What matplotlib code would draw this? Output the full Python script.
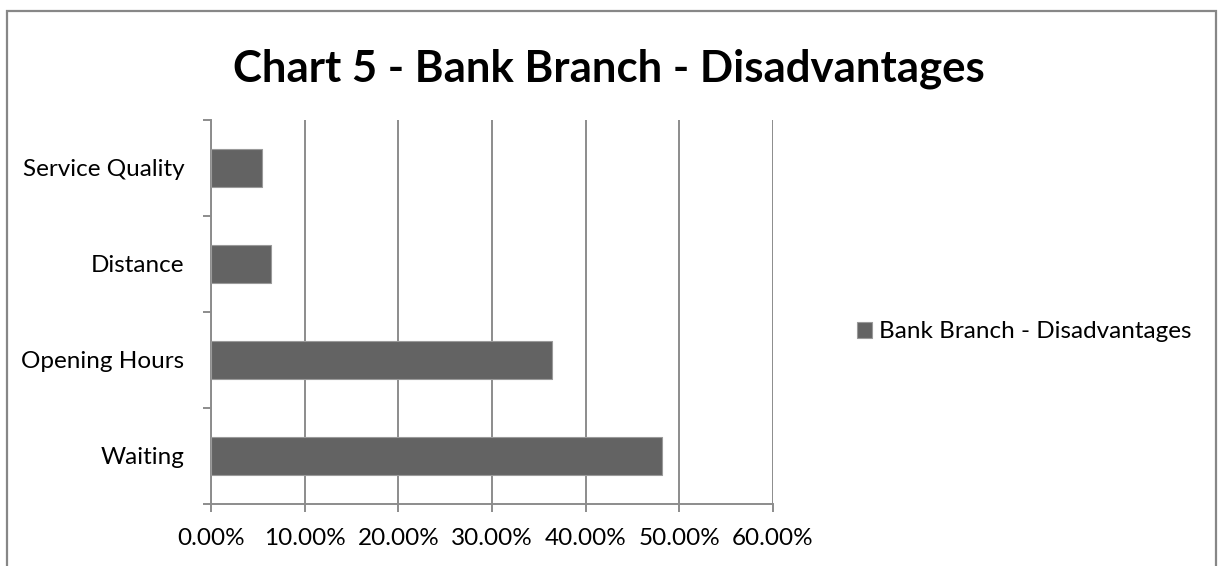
import matplotlib
matplotlib.use('Agg')
import matplotlib.pyplot as plt
from matplotlib.patches import Rectangle
import numpy as np

plt.rcParams['font.family'] = ['Lato', 'DejaVu Sans']

# survey shares, bottom to top as drawn
categories = ['Waiting', 'Opening Hours', 'Distance', 'Service Quality']
values = [0.482, 0.364, 0.064, 0.054]
series_name = 'Bank Branch - Disadvantages'
x_ticks = [0.0, 0.1, 0.2, 0.3, 0.4, 0.5, 0.6]

W, H = 1218, 566
fig = plt.figure(figsize=(W / 100, H / 100), dpi=100)
fig.patch.set_facecolor('white')

# grey frame around the whole chart (bottom edge runs off the page)
fig.patches.append(Rectangle((6.5 / W, -0.2), (1216 - 6.5) / W, 1.2 - 10.5 / H,
                             transform=fig.transFigure, fill=False,
                             edgecolor='#878787', linewidth=1.6, clip_on=False))

fig.text(0.5, 1 - 69 / H, 'Chart 5 - Bank Branch - Disadvantages',
         ha='center', va='center', fontsize=31.5, fontweight='bold', color='black')

ax = fig.add_axes([211 / W, 1 - 504 / H, (773 - 211) / W, (504 - 120) / H])
ypos = np.arange(len(categories))
ax.barh(ypos, values, height=0.4, color='#636363', edgecolor='#9a9a9a',
        linewidth=0.8, label=series_name, zorder=3)

ax.set_xlim(0, 0.6)
ax.set_ylim(-0.5, len(categories) - 0.5)
ax.set_xticks(x_ticks)
ax.xaxis.set_major_formatter(lambda v, p: f'{v * 100:.2f}%')
ax.set_yticks(ypos)
ax.set_yticklabels(categories)
ax.set_yticks(np.arange(-0.5, len(categories), 1), minor=True)

fs = 17.5
grid_c = '#8c8c8c'
ax.grid(axis='x', color=grid_c, linewidth=1.4, zorder=0)
ax.tick_params(axis='y', which='major', length=0, pad=19, labelsize=fs)
ax.tick_params(axis='y', which='minor', length=6, width=1.4, color=grid_c)
ax.tick_params(axis='x', length=6, width=1.4, color=grid_c, pad=11.5, labelsize=fs)
for side in ['top', 'right']:
    ax.spines[side].set_visible(False)
for side in ['left', 'bottom']:
    ax.spines[side].set_color(grid_c)
    ax.spines[side].set_linewidth(1.4)

fig.legend(loc='center left', bbox_to_anchor=(857 / W, 1 - 332 / H),
           frameon=False, fontsize=fs, handlelength=0.6, handleheight=0.6,
           handletextpad=0.3, borderpad=0, borderaxespad=0)

fig.savefig('out.png', dpi=100)
